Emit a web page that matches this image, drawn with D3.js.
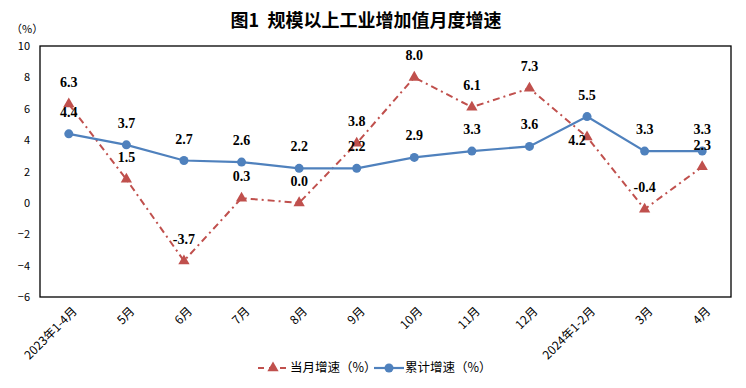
<!DOCTYPE html>
<html>
<head>
<meta charset="utf-8">
<script src="https://cdn.jsdelivr.net/npm/d3@7"></script>
<style>
  body { margin: 0; background: #fff; }
  svg { display: block; }
</style>
</head>
<body>
<svg id="chart" width="746" height="388"></svg>
<script>
// Chart data
var months = ["2023年1-4月", "5月", "6月", "7月", "8月", "9月", "10月", "11月", "12月", "2024年1-2月", "3月", "4月"];
var monthly = [6.3, 1.5, -3.7, 0.3, 0.0, 3.8, 8.0, 6.1, 7.3, 4.2, -0.4, 2.3];
var cumulative = [4.4, 3.7, 2.7, 2.6, 2.2, 2.2, 2.9, 3.3, 3.6, 5.5, 3.3, 3.3];
var yTicks = [10, 8, 6, 4, 2, 0, -2, -4, -6];

var red = "#C0504D",
    blue = "#4F81BD",
    cjk = "'Noto Sans CJK SC', 'Noto Sans', sans-serif";

var svg = d3.select("#chart"),
    margin = {top: 46, right: 15, bottom: 91, left: 40},
    width = +svg.attr("width") - margin.left - margin.right,
    height = +svg.attr("height") - margin.top - margin.bottom;

var x = d3.scaleBand().domain(months).range([0, width]),
    y = d3.scaleLinear().domain([-6, 10]).range([height, 0]);

function cx(i) { return x(months[i]) + x.bandwidth() / 2; }

// Title
svg.append("text")
  .attr("x", 366).attr("y", 27)
  .attr("text-anchor", "middle")
  .style("font-family", cjk).style("font-size", "18px").style("font-weight", "bold")
  .text("图1\u00a0\u00a0规模以上工业增加值月度增速");

svg.append("text")
  .attr("x", 11).attr("y", 33)
  .style("font-family", cjk).style("font-size", "11px")
  .text("（%）");

var g = svg.append("g")
  .attr("transform", "translate(" + margin.left + "," + margin.top + ")");

// Plot border
g.append("rect")
  .attr("x", 0).attr("y", 0)
  .attr("width", width).attr("height", height)
  .attr("fill", "none").attr("stroke", "#000").attr("stroke-width", 1.3);

// y axis labels
var yAxis = g.append("g")
  .call(d3.axisLeft(y).tickValues(yTicks).tickSize(0).tickPadding(10));
yAxis.select(".domain").remove();
yAxis.selectAll("text")
  .style("font-family", cjk).style("font-size", "11px").attr("fill", "#000");

// x axis labels, rotated
g.selectAll(".xlabel")
  .data(months)
  .enter().append("text")
    .attr("class", "xlabel")
    .attr("transform", function(d, i) { return "translate(" + (cx(i) + 6) + "," + (height + 12) + ") rotate(-45)"; })
    .attr("text-anchor", "end")
    .attr("dy", "0.35em")
    .style("font-family", cjk).style("font-size", "12px")
    .text(function(d) { return d; });

// Lines
var line = d3.line()
  .x(function(d, i) { return cx(i); })
  .y(function(d) { return y(d); });

g.append("path")
  .datum(monthly)
  .attr("d", line)
  .attr("fill", "none")
  .attr("stroke", red).attr("stroke-width", 2)
  .attr("stroke-dasharray", "7,4,2,4");

g.append("path")
  .datum(cumulative)
  .attr("d", line)
  .attr("fill", "none")
  .attr("stroke", blue).attr("stroke-width", 2.2);

var tri = d3.symbol().type(d3.symbolTriangle).size(55);

g.selectAll(".tri")
  .data(monthly)
  .enter().append("path")
    .attr("class", "tri")
    .attr("transform", function(d, i) { return "translate(" + cx(i) + "," + y(d) + ")"; })
    .attr("d", tri)
    .attr("fill", red);

g.selectAll(".dot")
  .data(cumulative)
  .enter().append("circle")
    .attr("class", "dot")
    .attr("cx", function(d, i) { return cx(i); })
    .attr("cy", function(d) { return y(d); })
    .attr("r", 4.5)
    .attr("fill", blue);

// Value labels
function addLabels(data, cls) {
  g.selectAll("." + cls)
    .data(data)
    .enter().append("text")
      .attr("class", cls)
      .attr("x", function(d, i) { return cx(i) + (cls === "lm" && i === 9 ? -10 : 0); })
      .attr("y", function(d, i) { return y(d) - (cls === "lm" && i === 9 ? -8 : 17); })
      .attr("text-anchor", "middle")
      .style("font-family", "'Liberation Serif', 'Times New Roman', serif")
      .style("font-size", "14px").style("font-weight", "bold")
      .text(function(d) { return d.toFixed(1); });
}
addLabels(monthly, "lm");
addLabels(cumulative, "lc");

// Legend
var lg = svg.append("g").attr("transform", "translate(0,368)");
lg.append("line")
  .attr("x1", 258).attr("x2", 288).attr("y1", 0).attr("y2", 0)
  .attr("stroke", red).attr("stroke-width", 2).attr("stroke-dasharray", "6,5");
lg.append("path")
  .attr("transform", "translate(273,0)")
  .attr("d", tri).attr("fill", red);
lg.append("text")
  .attr("x", 290).attr("y", 0).attr("dy", "0.35em")
  .style("font-family", cjk).style("font-size", "12.5px")
  .text("当月增速（%）");

lg.append("line")
  .attr("x1", 374).attr("x2", 404).attr("y1", 0).attr("y2", 0)
  .attr("stroke", blue).attr("stroke-width", 2.2);
lg.append("circle")
  .attr("cx", 389).attr("cy", 0).attr("r", 4.5).attr("fill", blue);
lg.append("text")
  .attr("x", 405).attr("y", 0).attr("dy", "0.35em")
  .style("font-family", cjk).style("font-size", "12.5px")
  .text("累计增速（%）");
</script>
</body>
</html>
